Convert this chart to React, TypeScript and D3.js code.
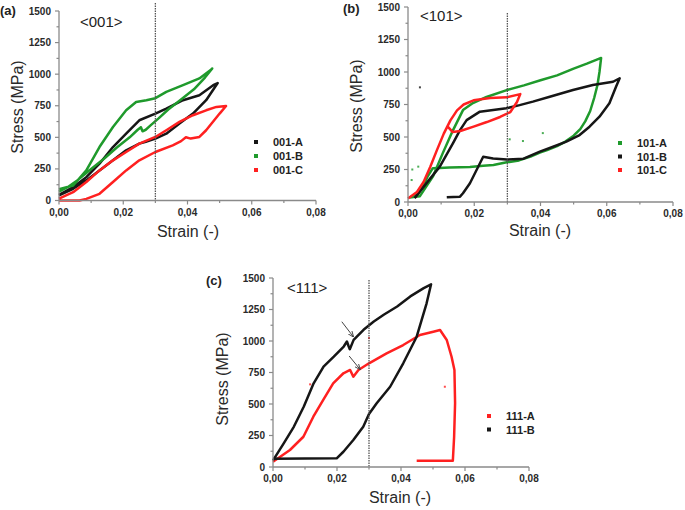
import React from "react";
import * as d3 from "d3";

const W = 685;
const H = 510;

const GREEN = "#1f9a2c";
const RED = "#ff2020";
const BLACK = "#161616";

// axis ticks
const xTicks = [0, 0.02, 0.04, 0.06, 0.08];
const xMinor = [0.01, 0.03, 0.05, 0.07];
const yTicks = [0, 250, 500, 750, 1000, 1250, 1500];
const yMinor = [125, 375, 625, 875, 1125, 1375];

// <001> loops: [strain, stress]
const s001A = [
  [0, 45], [0.0044, 106], [0.0085, 185], [0.0126, 291], [0.0168, 423], [0.0209, 529],
  [0.025, 635], [0.03, 688], [0.0334, 728], [0.0386, 794], [0.0437, 833], [0.048, 913],
  [0.0494, 930], [0.0458, 794], [0.0417, 688], [0.0375, 609], [0.0334, 529], [0.03, 490],
  [0.027, 465], [0.025, 450], [0.0209, 397], [0.0168, 318], [0.0126, 238], [0.0085, 159],
  [0.0044, 93], [0, 40]
];
const s001B = [
  [0, 90], [0.0044, 119], [0.0085, 238], [0.0126, 423], [0.0168, 582], [0.0209, 714],
  [0.024, 780], [0.0272, 794], [0.03, 810], [0.0334, 860], [0.0386, 913], [0.0437, 966],
  [0.0474, 1037], [0.0477, 1045], [0.0455, 975], [0.042, 880], [0.038, 800], [0.034, 720],
  [0.031, 650], [0.0285, 595], [0.027, 560], [0.026, 548], [0.0255, 580], [0.0245, 560],
  [0.022, 500], [0.018, 420], [0.014, 330], [0.01, 250], [0.006, 165], [0.003, 110], [0, 70]
];
const s001C = [
  [0, 15], [0.0044, 66], [0.0085, 146], [0.0126, 238], [0.0168, 318], [0.0209, 384],
  [0.025, 450], [0.03, 503], [0.0334, 556], [0.0375, 622], [0.0417, 675], [0.0458, 714],
  [0.049, 741], [0.052, 748], [0.05, 688], [0.0458, 556], [0.0437, 503], [0.041, 490],
  [0.0395, 500], [0.038, 470], [0.0354, 437], [0.03, 384], [0.025, 318], [0.0209, 238],
  [0.0168, 146], [0.0126, 53], [0.0085, 13], [0.0064, 0], [0, 0]
];

// <101> loops
const s101A = [
  [0.0005, 35], [0.0036, 45], [0.0075, 195], [0.0105, 376], [0.0136, 553], [0.0166, 707],
  [0.0196, 761], [0.0237, 808], [0.0298, 861], [0.035, 897], [0.04, 936], [0.045, 974],
  [0.05, 1026], [0.054, 1064], [0.057, 1095], [0.0583, 1108], [0.0578, 1000], [0.0572, 900],
  [0.0562, 800], [0.055, 700], [0.0535, 620], [0.052, 560], [0.05, 510], [0.0475, 465],
  [0.045, 430], [0.042, 400], [0.0398, 380], [0.037, 350], [0.0335, 320], [0.0298, 305],
  [0.0258, 285], [0.0227, 278], [0.0187, 270], [0.0157, 268], [0.0125, 265], [0.0095, 262],
  [0.0075, 260], [0.006, 200], [0.0045, 120], [0.003, 60], [0.0005, 35]
];
const s101B = [
  [0.002, 30], [0.0056, 145], [0.0096, 272], [0.0136, 453], [0.0157, 553], [0.0177, 630],
  [0.0217, 695], [0.0257, 707], [0.0297, 721], [0.0337, 745], [0.0377, 772], [0.0428, 810],
  [0.0498, 862], [0.0558, 900], [0.0619, 925], [0.0639, 952], [0.0628, 887], [0.0608, 759],
  [0.0578, 656], [0.0548, 579], [0.0518, 515], [0.0478, 464], [0.0438, 425], [0.0398, 387],
  [0.0349, 333], [0.0298, 326], [0.0257, 335], [0.0227, 348], [0.0207, 246], [0.0187, 144],
  [0.0166, 67], [0.0157, 41], [0.0117, 36]
];
const s101C = [
  [0, 26], [0.0027, 77], [0.0047, 154], [0.0067, 269], [0.0087, 397], [0.0108, 526],
  [0.0128, 628], [0.0148, 705], [0.0168, 750], [0.0198, 782], [0.0248, 800], [0.0298, 805],
  [0.0339, 830], [0.0329, 769], [0.0309, 692], [0.0278, 654], [0.0238, 615], [0.0198, 580],
  [0.0158, 546], [0.0135, 538], [0.012, 580]
];
const dots101A = [[0.0011, 169], [0.0031, 272], [0.0013, 250], [0.0307, 482], [0.0347, 469], [0.0407, 530]];
const dots101B = [[0.0036, 882]];

// <111> loops
const s111A = [
  [0, 42], [0.0053, 135], [0.0095, 240], [0.0126, 399], [0.0157, 532], [0.0188, 664],
  [0.022, 744], [0.0241, 770], [0.0251, 717], [0.0267, 770], [0.03, 823], [0.0355, 902],
  [0.0407, 968], [0.0459, 1048], [0.0501, 1074], [0.0522, 1087], [0.0543, 1008],
  [0.0558, 875], [0.0567, 770], [0.0569, 506], [0.0566, 240], [0.0562, 50], [0.0449, 50]
];
const s111B = [
  [0, 53], [0.0033, 186], [0.0065, 319], [0.0096, 478], [0.0127, 664], [0.0158, 797],
  [0.019, 876], [0.0221, 956], [0.0231, 996], [0.0236, 960], [0.024, 935], [0.0252, 1009],
  [0.0283, 1089], [0.0315, 1155], [0.0346, 1208], [0.0388, 1274], [0.0429, 1354],
  [0.0471, 1420], [0.0494, 1450], [0.048, 1299], [0.0449, 1034], [0.0407, 823],
  [0.0366, 637], [0.0324, 506], [0.03, 420], [0.0282, 320], [0.0251, 214], [0.022, 121],
  [0.0199, 69], [0, 65]
];
const dots111A = [[0.0116, 656], [0.03, 1023], [0.0537, 637]];
const arrows111 = [
  [[0.0215, 1153], [0.0251, 1034]],
  [[0.0238, 881], [0.0272, 775]]
];

const fmt = (v: number) => d3.format(".2f")(v).replace(".", ",");

const panels = [
  {
    tag: "(a)", dir: "<001>", x0: 59, x1: 316, y0: 200.5, y1: 11, dotTop: 3,
    tagPos: [0, 15], dirPos: [80, 27], yTitle: [17, 107], xTitle: [188, 237],
    legend: [256, 142, 14], dotsList: [] as any[], arrows: [] as any[],
    series: [
      { name: "001-A", color: BLACK, pts: s001A },
      { name: "001-B", color: GREEN, pts: s001B },
      { name: "001-C", color: RED, pts: s001C }
    ]
  },
  {
    tag: "(b)", dir: "<101>", x0: 408, x1: 673, y0: 202, y1: 7, dotTop: 13,
    tagPos: [343, 13], dirPos: [420, 21], yTitle: [356, 106], xTitle: [540, 236],
    legend: [620, 143, 13.5],
    dotsList: [{ color: GREEN, pts: dots101A }, { color: BLACK, pts: dots101B }], arrows: [] as any[],
    series: [
      { name: "101-A", color: GREEN, pts: s101A },
      { name: "101-B", color: BLACK, pts: s101B },
      { name: "101-C", color: RED, pts: s101C }
    ]
  },
  {
    tag: "(c)", dir: "<111>", x0: 273, x1: 529, y0: 467, y1: 278, dotTop: 280,
    tagPos: [206, 285], dirPos: [287, 293], yTitle: [222, 379], xTitle: [400, 503],
    legend: [489, 416, 13.5],
    dotsList: [{ color: RED, pts: dots111A }], arrows: arrows111,
    series: [
      { name: "111-A", color: RED, pts: s111A },
      { name: "111-B", color: BLACK, pts: s111B }
    ]
  }
];

const font = "Arial, 'Liberation Sans', sans-serif";

function Panel({ p }: { p: any }) {
  const x = d3.scaleLinear().domain([0, 0.08]).range([p.x0, p.x1]);
  const y = d3.scaleLinear().domain([0, 1500]).range([p.y0, p.y1]);
  const line = d3.line<number[]>().x(d => x(d[0])).y(d => y(d[1]));
  const axisCol = "#8a8a8a";
  return (
    <g>
      {/* curves */}
      {p.series.map((s: any) => (
        <path key={s.name} d={line(s.pts) || ""} fill="none" stroke={s.color}
          strokeWidth={2.5} strokeLinejoin="round" />
      ))}
      {p.dotsList.map((g: any, i: number) => g.pts.map((d: number[], j: number) => (
        <rect key={i + "-" + j} x={x(d[0]) - 1} y={y(d[1]) - 1} width={2} height={2} fill={g.color} opacity={0.8} />
      )))}
      {p.arrows.map((a: number[][], i: number) => (
        <line key={i} x1={x(a[0][0])} y1={y(a[0][1])} x2={x(a[1][0])} y2={y(a[1][1])}
          stroke="#444" strokeWidth={1} markerEnd="url(#arr)" />
      ))}
      {/* dotted line at 0.03 */}
      <line x1={x(0.03)} x2={x(0.03)} y1={p.dotTop} y2={p.y0} stroke="#555"
        strokeWidth={1.3} strokeDasharray="1.5 1" />
      {/* axes */}
      <line x1={p.x0} x2={p.x1} y1={p.y0} y2={p.y0} stroke={axisCol} strokeWidth={1.3} />
      <line x1={p.x0} x2={p.x0} y1={p.y0} y2={p.y1} stroke={axisCol} strokeWidth={1.3} />
      {xTicks.map(t => (
        <g key={"xt" + t}>
          <line x1={x(t)} x2={x(t)} y1={p.y0} y2={p.y0 + 4} stroke={axisCol} strokeWidth={1.2} />
          <text x={x(t)} y={p.y0 + 15} textAnchor="middle" fontSize={10} fontWeight="bold"
            fill="#2a2a2a" fontFamily={font}>{fmt(t)}</text>
        </g>
      ))}
      {xMinor.map(t => (
        <line key={"xm" + t} x1={x(t)} x2={x(t)} y1={p.y0} y2={p.y0 + 2.5} stroke={axisCol} strokeWidth={1.2} />
      ))}
      {yTicks.map(t => (
        <g key={"yt" + t}>
          <line x1={p.x0 - 4} x2={p.x0} y1={y(t)} y2={y(t)} stroke={axisCol} strokeWidth={1.2} />
          <text x={p.x0 - 8} y={y(t) + 3.5} textAnchor="end" fontSize={10} fontWeight="bold"
            fill="#2a2a2a" fontFamily={font}>{t}</text>
        </g>
      ))}
      {yMinor.map(t => (
        <line key={"ym" + t} x1={p.x0 - 2.5} x2={p.x0} y1={y(t)} y2={y(t)} stroke={axisCol} strokeWidth={1.2} />
      ))}
      {/* titles */}
      <text x={p.tagPos[0]} y={p.tagPos[1]} fontSize={13} fontWeight="bold" fill="#222" fontFamily={font}>{p.tag}</text>
      <text x={p.dirPos[0]} y={p.dirPos[1]} fontSize={15} fill="#222" fontFamily={font}>{p.dir}</text>
      <text transform={`translate(${p.yTitle[0]},${p.yTitle[1]}) rotate(-90)`} dy="0.35em"
        textAnchor="middle" fontSize={16} fill="#2a2a2a" fontFamily={font}>Stress (MPa)</text>
      <text x={p.xTitle[0]} y={p.xTitle[1]} textAnchor="middle" fontSize={16} fill="#2a2a2a"
        fontFamily={font}>Strain (-)</text>
      {/* legend */}
      {p.series.map((s: any, i: number) => (
        <g key={"lg" + s.name}>
          <rect x={p.legend[0] - 2} y={p.legend[1] + i * p.legend[2] - 2} width={4} height={4} fill={s.color} />
          <text x={p.legend[0] + 17} y={p.legend[1] + i * p.legend[2] + 4} fontSize={11} fontWeight="bold"
            fill="#222" fontFamily={font}>{s.name}</text>
        </g>
      ))}
    </g>
  );
}

export default function App() {
  return (
    <svg width={W} height={H} style={{ position: "absolute", left: 0, top: 0, background: "#fff" }}>
      <defs>
        <marker id="arr" viewBox="0 0 10 10" refX={9} refY={5} markerWidth={6} markerHeight={6} orient="auto">
          <path d="M0,1 L10,5 L0,9" fill="none" stroke="#444" strokeWidth={1.5} />
        </marker>
      </defs>
      {panels.map(p => <Panel key={p.tag} p={p} />)}
    </svg>
  );
}
